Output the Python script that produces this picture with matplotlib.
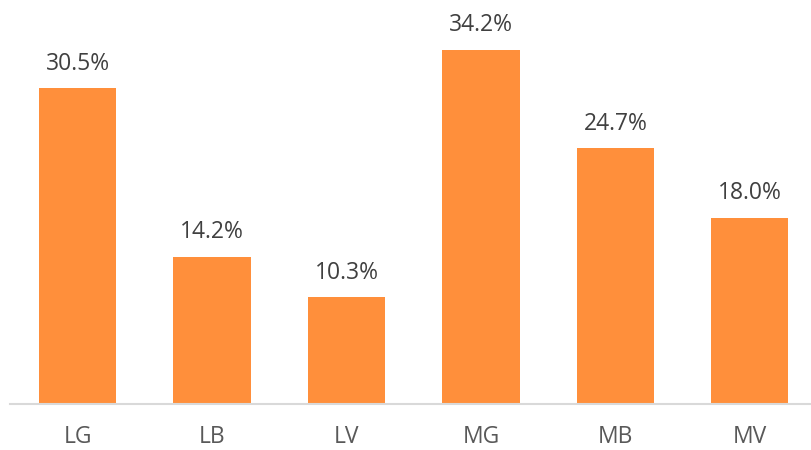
import matplotlib
matplotlib.use("Agg")
import matplotlib.pyplot as plt

categories = ["LG", "LB", "LV", "MG", "MB", "MV"]
values = [30.5, 14.2, 10.3, 34.2, 24.7, 18.0]

fig = plt.figure(figsize=(8.11, 4.5), dpi=100)
ax = fig.add_axes([10 / 811, 46 / 450, 801 / 811, 404 / 450])

x = range(len(categories))
bars = ax.bar(x, values, width=0.573, color="#FF8F3B")

for b, v in zip(bars, values):
    ax.text(b.get_x() + b.get_width() / 2, v + 1.2, f"{v:.1f}%",
            ha="center", va="bottom", fontsize=16.5, color="#404040",
            family="Open Sans")

ax.set_xlim(-0.502, 5.454)
ax.set_ylim(0, 39)
ax.set_xticks(list(x))
ax.set_xticklabels(categories, fontsize=16.5, color="#595959", family="Open Sans")
ax.tick_params(axis="x", length=0, pad=15)
ax.set_yticks([])
for s in ["top", "right", "left"]:
    ax.spines[s].set_visible(False)
ax.spines["bottom"].set_color("#D9D9D9")
ax.spines["bottom"].set_linewidth(1.5)

fig.savefig("out.png", dpi=100)
